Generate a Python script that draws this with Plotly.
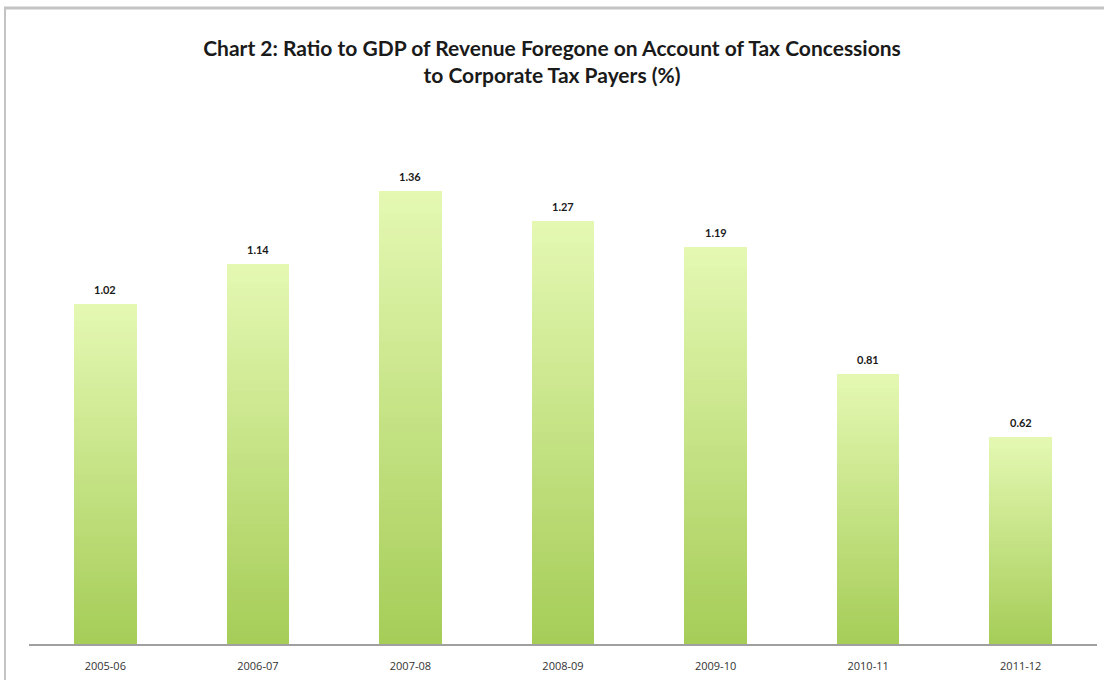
import plotly.graph_objects as go

categories = ["2005-06", "2006-07", "2007-08", "2008-09", "2009-10", "2010-11", "2011-12"]
values = [1.02, 1.14, 1.36, 1.27, 1.19, 0.81, 0.62]
labels = ["1.02", "1.14", "1.36", "1.27", "1.19", "0.81", "0.62"]

W, H = 1104, 680
N = 60
top_rgb = (228, 248, 178)
bot_rgb = (166, 205, 88)

fig = go.Figure()
for i in range(N):
    t = i / (N - 1)
    c = tuple(round(bot_rgb[k] + (top_rgb[k] - bot_rgb[k]) * t) for k in range(3))
    fig.add_trace(go.Bar(
        x=categories, y=[v / N for v in values],
        marker=dict(color="rgb(%d,%d,%d)" % c, line=dict(width=0)),
        showlegend=False, hoverinfo="skip"))

for cat, v, lab in zip(categories, values, labels):
    fig.add_annotation(x=cat, y=v, text="<b>%s</b>" % lab, showarrow=False,
                       yanchor="bottom", yshift=6,
                       font=dict(family="Lato, Open Sans, sans-serif", size=11, color="#1a1a1a"))

PT, PB, PL, PR = 130, 36, 29, 7
ph = H - PT - PB
pw = W - PL - PR
def px_to_py(y):
    return (H - PB - y) / ph
def px_to_px(x):
    return (x - PL) / pw

# frame lines (top and left)
fig.add_shape(type="line", xref="paper", yref="paper",
              x0=px_to_px(4), x1=px_to_px(W + 10), y0=px_to_py(8), y1=px_to_py(8),
              line=dict(color="#c4c4c4", width=3))
fig.add_shape(type="line", xref="paper", yref="paper",
              x0=px_to_px(5), x1=px_to_px(5), y0=px_to_py(H + 10), y1=px_to_py(8),
              line=dict(color="#c4c4c4", width=2))

fig.update_layout(
    width=W, height=H,
    barmode="stack", bargap=0.59,
    paper_bgcolor="white", plot_bgcolor="white",
    margin=dict(l=PL, r=PR, t=PT, b=PB),
    title=dict(text="<b>Chart 2: Ratio to GDP of Revenue Foregone on Account of Tax Concessions<br>to Corporate Tax Payers (%)</b>",
               x=0.5, xanchor="center", xref="container", yref="container",
               y=1 - 56 / H, yanchor="middle",
               font=dict(family="Lato, Open Sans, sans-serif", size=21, color="#1a1a1a")),
    xaxis=dict(type="category", showline=True, linecolor="#a0a0a0", linewidth=1.5, ticks="", showgrid=False,
               ticklabelstandoff=11,
               tickfont=dict(family="Open Sans, sans-serif", size=11, color="#333333")),
    yaxis=dict(range=[0, 1.542], visible=False, showgrid=False, zeroline=False),
)

fig.write_html("out.html")
